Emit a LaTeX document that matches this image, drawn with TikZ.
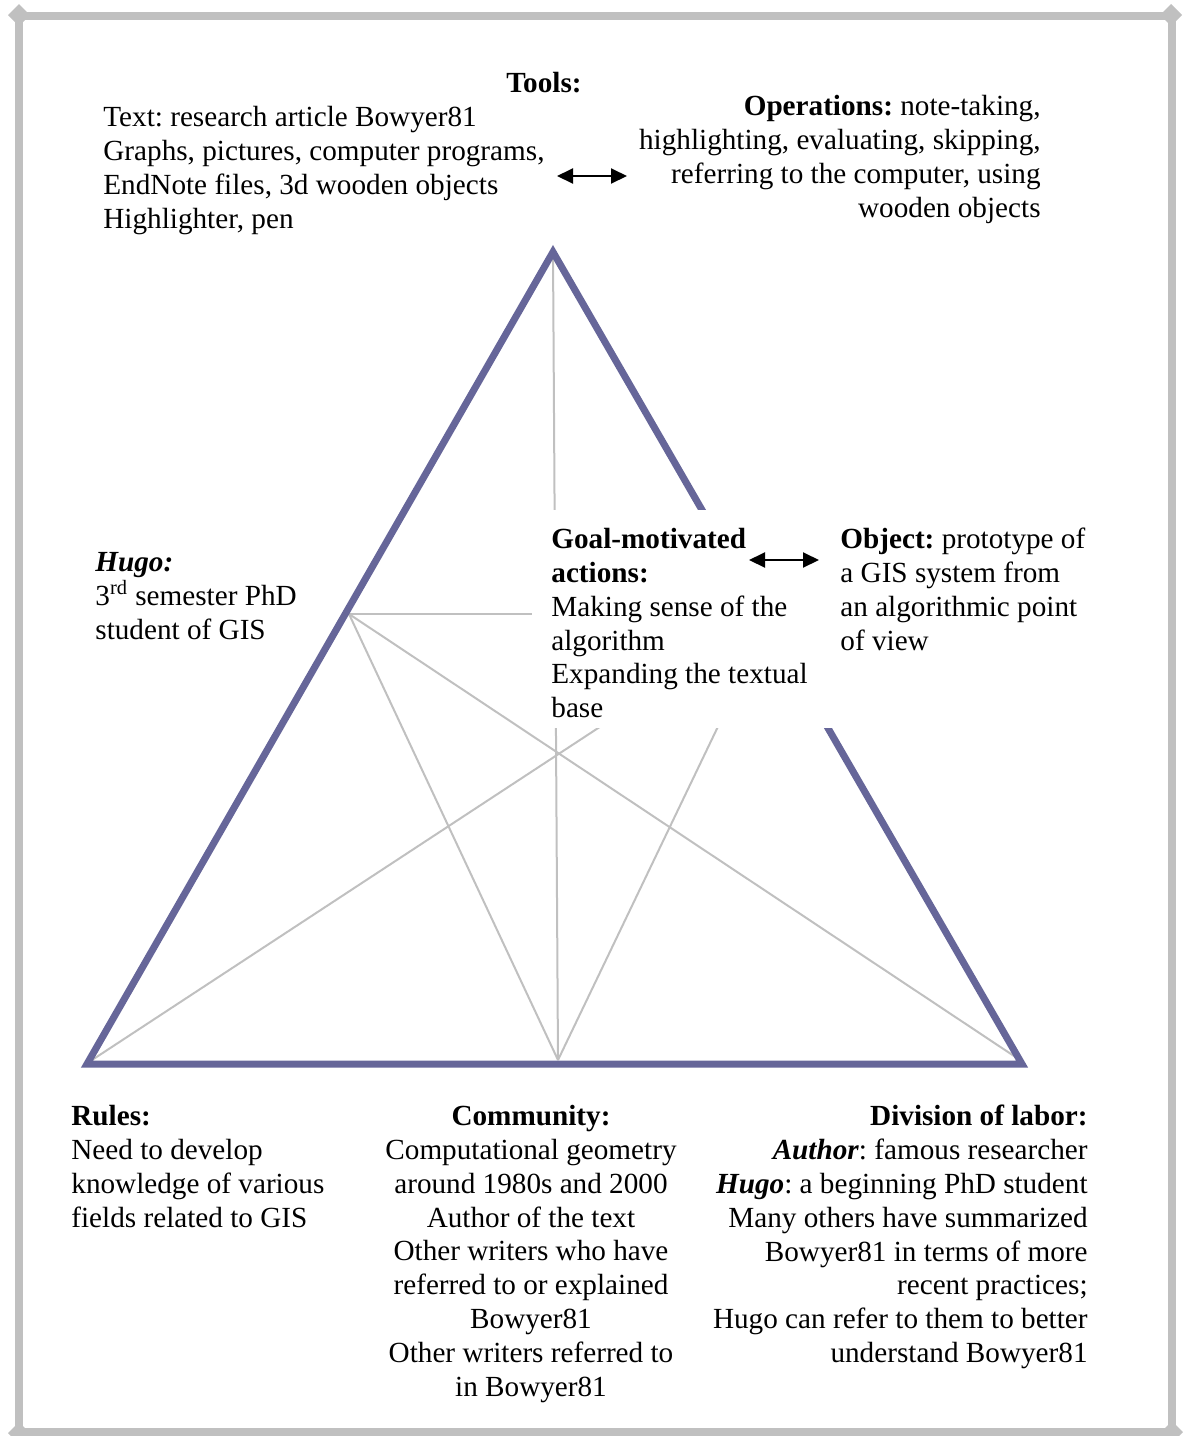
\documentclass[tikz,border=0pt]{standalone}
\usepackage{fontspec}
\setmainfont{Liberation Serif}
\usetikzlibrary{arrows.meta}
\definecolor{framegray}{RGB}{192,192,192}
\definecolor{linkgray}{RGB}{192,192,192}
\definecolor{triblue}{RGB}{102,102,153}
\frenchspacing
\begin{document}
\begin{tikzpicture}[x=0.5pt,y=-0.5pt,
  txt/.style={inner sep=0pt, font=\fontsize{14.6}{16.9}\selectfont},
  framebar/.style={draw=framegray, line width=4pt},
  corner/.style={fill=framegray},
  edge/.style={draw=triblue, line width=3.5pt, line join=miter},
  link/.style={draw=linkgray, line width=1pt},
  twoway/.style={line width=1pt, {Triangle[length=8pt,width=7.5pt]}-{Triangle[length=8pt,width=7.5pt]}}]
\path[use as bounding box] (0,0) rectangle (1183,1436);

% outer frame with diamond corners
\draw[framebar] (19,16) rectangle (1172,1432);
\foreach \cx/\cy in {19/15, 1171/15, 19/1433, 1172/1432}
  \fill[corner] (\cx-11,\cy) -- (\cx,\cy-11) -- (\cx+11,\cy) -- (\cx,\cy+11) -- cycle;

% activity triangle corners and inner points
\coordinate (T) at (553,252);
\coordinate (BL) at (87,1064);
\coordinate (BR) at (1022,1064);
\coordinate (S) at (349,614);
\coordinate (O) at (772,614);
\coordinate (C) at (558,1060);
\coordinate (R) at (92,1060);
\coordinate (D) at (1020,1060);

% mediating links
\draw[link] (T) -- (C);
\draw[link] (S) -- (O);
\draw[link] (S) -- (C);
\draw[link] (S) -- (D);
\draw[link] (R) -- (O);
\draw[link] (C) -- (O);

% triangle
\draw[edge] (T) -- (BR) -- (BL) -- cycle;

% blank panel behind the actions text
\fill[white] (532,510) rectangle (834,728);

% labels
\node[txt, anchor=north, align=center] (tools) at (544,72) {\textbf{Tools:}};
\node[txt, anchor=north west, align=left] (toollist) at (103,106)
  {Text: research article Bowyer81\\
   Graphs, pictures, computer programs,\\
   EndNote files, 3d wooden objects\\
   Highlighter, pen};
\node[txt, anchor=north east, align=right] (ops) at (1041,95)
  {\textbf{Operations:} note-taking,\\
   highlighting, evaluating, skipping,\\
   referring to the computer, using\\
   wooden objects};
\node[txt, anchor=north west, align=left] (hugo) at (95,552)
  {\textbf{\textit{Hugo:}}\\
   3\textsuperscript{rd} semester PhD\\
   student of GIS};
\node[txt, anchor=north west, align=left] (goal) at (551,528)
  {\textbf{Goal-motivated}\\
   \textbf{actions:}\\
   Making sense of the\\
   algorithm\\
   Expanding the textual\\
   base};
\node[txt, anchor=north west, align=left] (object) at (840,528)
  {\textbf{Object:} prototype of\\
   a GIS system from\\
   an algorithmic point\\
   of view};
\node[txt, anchor=north west, align=left] (rules) at (71,1105)
  {\textbf{Rules:}\\
   Need to develop\\
   knowledge of various\\
   fields related to GIS};
\node[txt, anchor=north, align=center] (community) at (531,1105)
  {\textbf{Community:}\\
   Computational geometry\\
   around 1980s and 2000\\
   Author of the text\\
   Other writers who have\\
   referred to or explained\\
   Bowyer81\\
   Other writers referred to\\
   in Bowyer81};
\node[txt, anchor=north east, align=right] (division) at (1088,1105)
  {\textbf{Division of labor:}\\
   \textbf{\textit{Author}}: famous researcher\\
   \textbf{\textit{Hugo}}: a beginning PhD student\\
   Many others have summarized\\
   Bowyer81 in terms of more\\
   recent practices;\\
   Hugo can refer to them to better\\
   understand Bowyer81};

% two-way arrows
\coordinate (toolsL) at (557,176);
\coordinate (toolsR) at (627,176);
\coordinate (goalL) at (749,560);
\coordinate (goalR) at (819,560);
\draw[twoway] (toolsL) -- (toolsR);
\draw[twoway] (goalL) -- (goalR);
\end{tikzpicture}
\end{document}
